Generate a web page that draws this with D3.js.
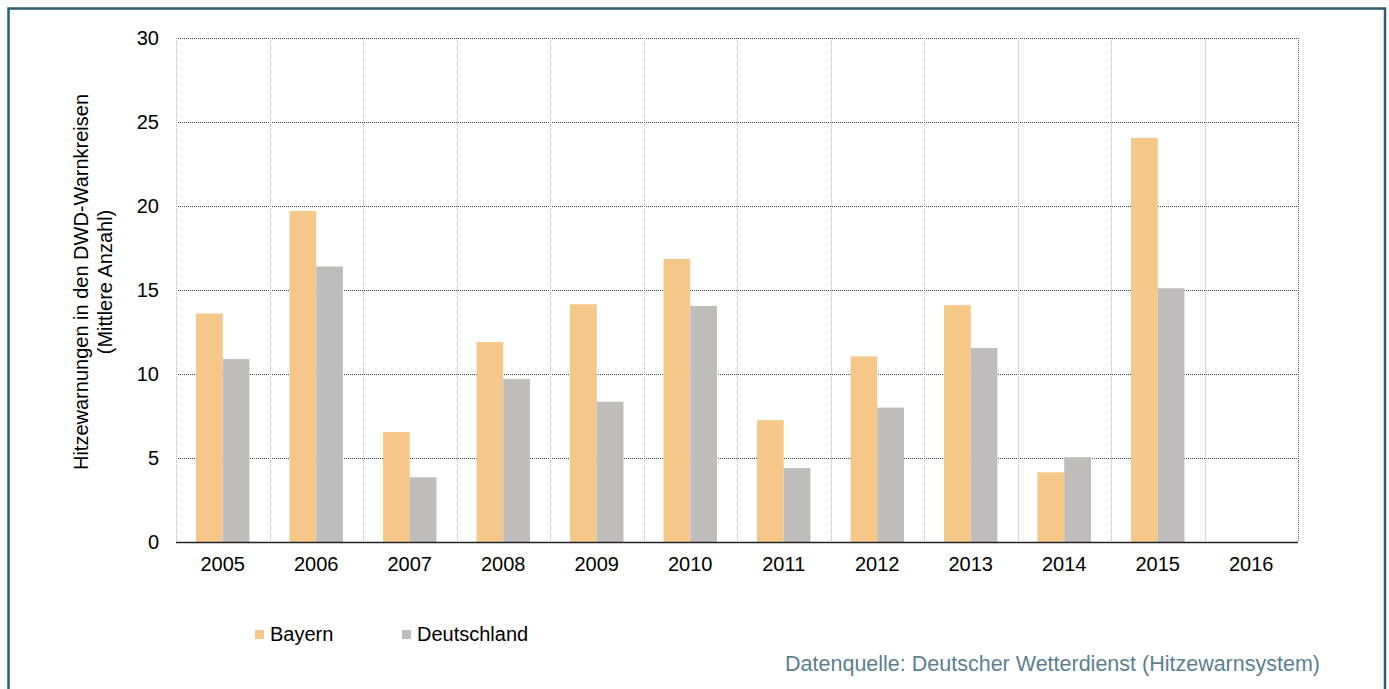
<!DOCTYPE html>
<html>
<head>
<meta charset="utf-8">
<script src="https://cdn.jsdelivr.net/npm/d3@7"></script>
<style>
  html, body { margin: 0; padding: 0; background: #fff; }
  svg { display: block; font-family: "Liberation Sans", Arial, sans-serif; }
</style>
</head>
<body>
<div id="chart"></div>
<script>
// data
var years = ["2005", "2006", "2007", "2008", "2009", "2010", "2011", "2012", "2013", "2014", "2015", "2016"];
var bayern = [13.6, 19.7, 6.55, 11.9, 14.15, 16.85, 7.25, 11.05, 14.1, 4.15, 24.05, null];
var deutschland = [10.9, 16.4, 3.85, 9.7, 8.35, 14.05, 4.4, 8.0, 11.55, 5.05, 15.1, null];
var seriesNames = ["Bayern", "Deutschland"];
var seriesColors = ["#f5c88a", "#bebdbb"];
var yTicks = [0, 5, 10, 15, 20, 25, 30];

var width = 1389, height = 689;
var margin = { top: 38, right: 91, bottom: 147, left: 176 };
var fontSize = 20;

var svg = d3.select("#chart").append("svg")
  .attr("width", width)
  .attr("height", height);

// outer frame
svg.append("rect")
  .attr("x", 8.5)
  .attr("y", 8.5)
  .attr("width", 1376.5)
  .attr("height", 700)
  .attr("fill", "none")
  .attr("stroke", "#2a6072")
  .attr("stroke-width", 2.5);

var x = d3.scaleBand()
  .domain(years)
  .range([margin.left, width - margin.right])
  .padding(0);

var xInner = d3.scaleBand()
  .domain(seriesNames)
  .range([0, x.bandwidth()])
  .paddingInner(0)
  .paddingOuter(0.75);

var y = d3.scaleLinear()
  .domain([0, 30])
  .range([height - margin.bottom, margin.top]);

// horizontal grid
svg.append("g")
  .selectAll("line")
  .data(yTicks.filter(d => d > 0))
  .enter().append("line")
  .attr("x1", margin.left)
  .attr("x2", width - margin.right)
  .attr("y1", d => Math.round(y(d)) + 0.5)
  .attr("y2", d => Math.round(y(d)) + 0.5)
  .attr("stroke", "#4a4a4a")
  .attr("stroke-width", 1)
  .attr("stroke-dasharray", "1,1");

// vertical grid at band edges
var edges = years.map(d => x(d)).concat([width - margin.right]);
svg.append("g")
  .selectAll("line")
  .data(edges)
  .enter().append("line")
  .attr("x1", d => Math.round(d) + 0.5)
  .attr("x2", d => Math.round(d) + 0.5)
  .attr("y1", y(30))
  .attr("y2", y(0))
  .attr("stroke", (d, i) => i === edges.length - 1 ? "#6a6a6a" : "#b8b8b8")
  .attr("stroke-width", 1)
  .attr("stroke-dasharray", "1,1");

// bars
var rows = years.map((yr, i) => ({ year: yr, values: [bayern[i], deutschland[i]] }));
var groups = svg.append("g")
  .selectAll("g")
  .data(rows)
  .enter().append("g")
  .attr("transform", d => `translate(${x(d.year)},0)`);

groups.selectAll("rect")
  .data(d => d.values.map((v, k) => ({ name: seriesNames[k], value: v, k: k })).filter(e => e.value != null))
  .enter().append("rect")
  .attr("x", d => xInner(d.name))
  .attr("y", d => y(d.value))
  .attr("width", xInner.bandwidth())
  .attr("height", d => y(0) - y(d.value))
  .attr("fill", d => seriesColors[d.k]);

// baseline
svg.append("line")
  .attr("x1", margin.left)
  .attr("x2", width - margin.right)
  .attr("y1", y(0) + 0.5)
  .attr("y2", y(0) + 0.5)
  .attr("stroke", "#222")
  .attr("stroke-width", 1.5);

// y axis labels
var yAxis = d3.axisLeft(y).tickValues(yTicks).tickSize(0).tickPadding(17);
svg.append("g")
  .attr("transform", `translate(${margin.left},0)`)
  .call(yAxis)
  .call(g => g.select(".domain").remove())
  .call(g => g.selectAll("text")
    .attr("font-size", fontSize)
    .attr("font-family", "Liberation Sans, Arial, sans-serif")
    .attr("fill", "#000"));

// x axis labels
var xAxis = d3.axisBottom(x).tickSize(0).tickPadding(15);
svg.append("g")
  .attr("transform", `translate(0,${y(0)})`)
  .call(xAxis)
  .call(g => g.select(".domain").remove())
  .call(g => g.selectAll("text")
    .attr("font-size", fontSize)
    .attr("font-family", "Liberation Sans, Arial, sans-serif")
    .attr("fill", "#000"));

// y axis title
var yTitle = svg.append("text")
  .attr("transform", "translate(88,282) rotate(-90)")
  .attr("text-anchor", "middle")
  .attr("font-size", fontSize)
  .attr("fill", "#000");
yTitle.append("tspan").attr("x", 0).attr("dy", 0).text("Hitzewarnungen in den DWD-Warnkreisen");
yTitle.append("tspan").attr("x", 0).attr("dy", 24).text("(Mittlere Anzahl)");

// legend
var legendX = [255, 402];
var legend = svg.append("g")
  .selectAll("g")
  .data(seriesNames)
  .enter().append("g")
  .attr("transform", (d, i) => `translate(${legendX[i]},630)`);
legend.append("rect")
  .attr("width", 9)
  .attr("height", 9)
  .attr("fill", (d, i) => seriesColors[i]);
legend.append("text")
  .attr("x", 15)
  .attr("y", 11)
  .attr("font-size", fontSize)
  .attr("fill", "#000")
  .text(d => d);

// source
svg.append("text")
  .attr("x", 1320)
  .attr("y", 671)
  .attr("text-anchor", "end")
  .attr("font-size", 21.5)
  .attr("fill", "#5b7f90")
  .text("Datenquelle: Deutscher Wetterdienst (Hitzewarnsystem)");
</script>
</body>
</html>
